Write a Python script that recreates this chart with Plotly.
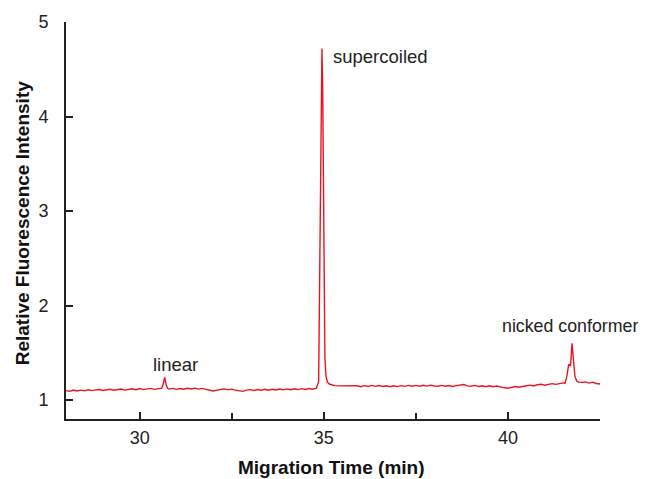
import plotly.graph_objects as go

# Migration time (min) and relative fluorescence intensity
time_min = [
    28.0, 28.1, 28.2, 28.3, 28.4, 28.5, 28.6, 28.7, 28.8, 28.9,
    29.0, 29.1, 29.2, 29.3, 29.4, 29.5, 29.6, 29.7, 29.8, 29.9,
    30.0, 30.1, 30.2, 30.3, 30.4, 30.5, 30.6,
    30.64, 30.68, 30.72, 30.76,
    30.8, 30.9, 31.0, 31.1, 31.2, 31.3, 31.4, 31.5, 31.6, 31.7, 31.8, 31.9,
    32.0, 32.1, 32.2, 32.3, 32.4, 32.5, 32.6, 32.7, 32.8, 32.9,
    33.0, 33.1, 33.2, 33.3, 33.4, 33.5, 33.6, 33.7, 33.8, 33.9,
    34.0, 34.1, 34.2, 34.3, 34.4, 34.5, 34.6, 34.7, 34.8,
    34.86, 34.90, 34.93, 34.95, 34.97, 35.00, 35.03, 35.06, 35.10, 35.15,
    35.2, 35.3, 35.4, 35.5, 35.6, 35.7, 35.8, 35.9,
    36.0, 36.1, 36.2, 36.3, 36.4, 36.5, 36.6, 36.7, 36.8, 36.9,
    37.0, 37.1, 37.2, 37.3, 37.4, 37.5, 37.6, 37.7, 37.8, 37.9,
    38.0, 38.1, 38.2, 38.3, 38.4, 38.5, 38.6, 38.7, 38.8, 38.9,
    39.0, 39.1, 39.2, 39.3, 39.4, 39.5, 39.6, 39.7, 39.8, 39.9,
    40.0, 40.1, 40.2, 40.3, 40.4, 40.5, 40.6, 40.7, 40.8, 40.9,
    41.0, 41.1, 41.2, 41.3, 41.4, 41.5, 41.55,
    41.60, 41.65, 41.70, 41.74, 41.78, 41.82, 41.87, 41.92,
    42.0, 42.1, 42.2, 42.3, 42.4, 42.5,
]
intensity = [
    1.100, 1.093, 1.106, 1.096, 1.105, 1.098, 1.109, 1.100, 1.108, 1.112,
    1.102, 1.110, 1.114, 1.104, 1.112, 1.117, 1.106, 1.114, 1.120, 1.110,
    1.122, 1.111, 1.119, 1.124, 1.114, 1.122, 1.127,
    1.170, 1.240, 1.160, 1.125,
    1.116, 1.124, 1.114, 1.123, 1.115, 1.125, 1.117, 1.126, 1.116, 1.124, 1.113, 1.106,
    1.096, 1.106, 1.114, 1.118, 1.108, 1.116, 1.106, 1.098, 1.092, 1.105,
    1.111, 1.102, 1.112, 1.104, 1.114, 1.105, 1.115, 1.107, 1.117, 1.108,
    1.118, 1.110, 1.120, 1.111, 1.121, 1.112, 1.122, 1.115, 1.125,
    1.200, 2.600, 4.200, 4.720, 4.300, 2.500, 1.450, 1.250, 1.190, 1.170,
    1.162, 1.153, 1.150, 1.150, 1.147, 1.148, 1.145, 1.151,
    1.142, 1.153, 1.144, 1.155, 1.145, 1.154, 1.144, 1.152, 1.142, 1.151,
    1.143, 1.153, 1.145, 1.155, 1.146, 1.156, 1.147, 1.157, 1.148, 1.158,
    1.149, 1.147, 1.156, 1.146, 1.154, 1.144, 1.153, 1.157, 1.164, 1.150,
    1.146, 1.155, 1.144, 1.152, 1.142, 1.151, 1.141, 1.149, 1.138, 1.130,
    1.126, 1.138, 1.144, 1.136, 1.148, 1.152, 1.158, 1.150, 1.162, 1.167,
    1.158, 1.170, 1.174, 1.166, 1.177, 1.182, 1.176,
    1.250, 1.380, 1.360, 1.600, 1.400, 1.250, 1.200, 1.190,
    1.187, 1.192, 1.180, 1.190, 1.176, 1.170,
]

peak_labels = ["linear", "supercoiled", "nicked conformer"]
label_x = [30.96, 35.22, 39.80]
label_y = [1.38, 4.63, 1.78]
label_anchor = ["center", "left", "left"]
label_size = [18.5, 18.5, 17.8]

x_tick_vals = [30, 35, 40]
y_tick_vals = [1, 2, 3, 4, 5]

FONT = "Liberation Sans, Arial, Helvetica, sans-serif"

fig = go.Figure()
fig.add_trace(go.Scatter(
    x=time_min, y=intensity, mode="lines",
    line=dict(color="rgb(235,20,30)", width=1.4),
    showlegend=False, hoverinfo="skip",
))

for txt, xx, yy, anc, sz in zip(peak_labels, label_x, label_y, label_anchor, label_size):
    fig.add_annotation(x=xx, y=yy, xref="x", yref="y", text=txt, showarrow=False,
                       xanchor=anc, yanchor="middle", borderpad=0,
                       font=dict(family=FONT, size=sz, color="#222"))

fig.add_annotation(x=0.496, y=-0.121, xref="paper", yref="paper",
                   text="<b>Migration Time (min)</b>", showarrow=False,
                   xanchor="center", yanchor="middle",
                   font=dict(family=FONT, size=19, color="#111"))
fig.add_annotation(x=-0.0824, y=0.493, xref="paper", yref="paper",
                   text="<b>Relative Fluorescence Intensity</b>", showarrow=False,
                   textangle=-90, xanchor="center", yanchor="middle",
                   font=dict(family=FONT, size=19, color="#111"))

fig.update_layout(
    width=646, height=479,
    margin=dict(l=66, r=46, t=22, b=60),
    plot_bgcolor="white", paper_bgcolor="white",
    font=dict(family=FONT, size=18, color="#222"),
    xaxis=dict(range=[28, 42.5], tickvals=x_tick_vals, ticks="inside", ticklen=7,
               tickwidth=1.5, tickcolor="#222", showline=True, linecolor="#222",
               linewidth=1.6, showgrid=False, zeroline=False,
               minor=dict(tickvals=[32.5, 37.5, 42.5], ticks="inside", ticklen=6,
                          tickwidth=1.5, tickcolor="#222", showgrid=False),
               ticklabelstandoff=2),
    yaxis=dict(range=[0.8, 5], tickvals=y_tick_vals, ticks="inside", ticklen=7,
               tickwidth=1.5, tickcolor="#222", showline=True, linecolor="#222",
               linewidth=1.6, showgrid=False, zeroline=False,
               ticklabelstandoff=12),
)

fig.write_html("out.html")
